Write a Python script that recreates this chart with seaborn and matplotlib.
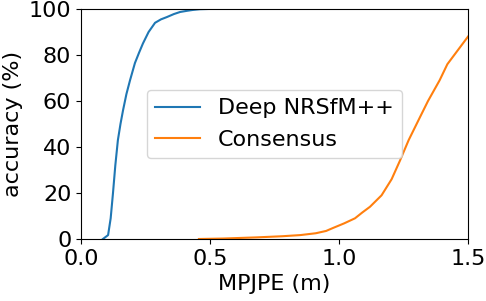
import numpy as np
import pandas as pd
import seaborn as sb
import matplotlib.pyplot as plt

# cumulative accuracy curves
deep_x = [0.085, 0.105, 0.115, 0.124, 0.133, 0.143, 0.153, 0.163, 0.176, 0.19, 0.209,
          0.225, 0.24, 0.262, 0.287, 0.31, 0.333, 0.36, 0.384, 0.41, 0.434, 0.46, 0.49]
deep_y = [0.0, 1.7, 9.0, 20.0, 32.0, 43.0, 50.0, 56.0, 63.0, 69.0, 76.5,
          81.0, 85.0, 90.0, 94.0, 95.5, 96.5, 97.8, 98.7, 99.2, 99.6, 99.9, 100.0]

cons_x = [0.457, 0.55, 0.68, 0.78, 0.85, 0.91, 0.95, 0.977, 1.02, 1.062, 1.09, 1.12, 1.165,
          1.204, 1.236, 1.27, 1.314, 1.345, 1.39, 1.42, 1.46, 1.5]
cons_y = [0.0, 0.2, 0.7, 1.2, 1.7, 2.5, 3.5, 4.8, 6.8, 9.0, 11.5, 14.0, 19.0,
          26.0, 34.0, 43.0, 53.0, 60.0, 69.0, 76.0, 82.0, 88.0]

df = pd.concat([
    pd.DataFrame({'MPJPE': deep_x, 'acc': deep_y, 'method': 'Deep NRSfM++'}),
    pd.DataFrame({'MPJPE': cons_x, 'acc': cons_y, 'method': 'Consensus'}),
])

fig = plt.figure(figsize=(4.86, 3.01), dpi=100)
ax = fig.add_axes([81/486, 1 - 239/301, 387/486, 230/301])

sb.lineplot(data=df, x='MPJPE', y='acc', hue='method', sort=False,
            palette=['tab:blue', 'tab:orange'], linewidth=1.5, ax=ax)

ax.set_xlim(0, 1.5)
ax.set_ylim(0, 100)
ax.set_xticks([0.0, 0.5, 1.0, 1.5])
ax.set_yticks([0, 20, 40, 60, 80, 100])
ax.tick_params(labelsize=16)
ax.set_xlabel('MPJPE (m)', fontsize=16)
ax.set_ylabel('accuracy (%)', fontsize=16)

handles, labels = ax.get_legend_handles_labels()
ax.legend(handles, labels, loc='center', fontsize=16)

fig.savefig('out.png', dpi=100)
